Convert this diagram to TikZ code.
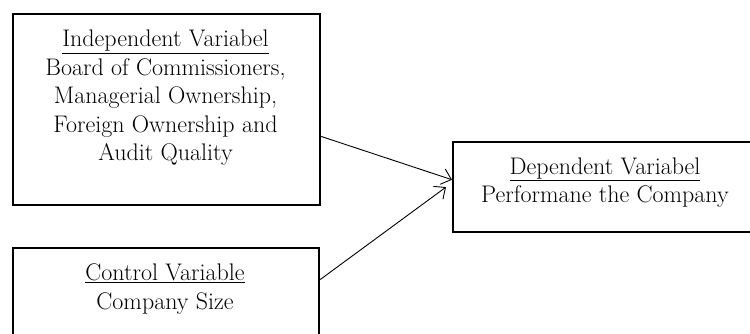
\documentclass[tikz,border=0pt]{standalone}
\usetikzlibrary{arrows.meta,calc}
\begin{document}
\begin{tikzpicture}[x=1pt,y=-1pt,
  box/.style={draw,line width=2.2pt,inner sep=0pt,anchor=north west},
  lbl/.style={align=center,inner sep=0pt,font=\fontsize{24}{28.5}\selectfont},
  conn/.style={line width=0.9pt,-{Straight Barb[length=9pt,width=16pt,line width=0.9pt]}}]
\useasboundingbox (0,0) rectangle (750,334);
\clip (0,0) rectangle (750,334);
\node[box,minimum width=307pt,minimum height=191pt] (indep) at (12,13) {};
\node[box,minimum width=306pt,minimum height=110pt] (ctrl) at (12,247) {};
\node[box,minimum width=320pt,minimum height=90pt] (dep) at (452,141) {};
\node[lbl] (indeptext) at (165.5,98) {\underline{Independent Variabel}\\Board of Commissioners,\\Managerial Ownership,\\Foreign Ownership and\\Audit Quality};
\node[lbl] (ctrltext) at (165,289) {\underline{Control Variable}\\Company Size};
\node[lbl] (deptext) at (605,182.5) {\underline{Dependent Variabel}\\Performane the Company};
\coordinate (a1s) at ($(indep.north east)!0.639!(indep.south east)$);
\coordinate (a1e) at ($(dep.north west)!0.42!(dep.south west)$);
\coordinate (a2s) at ($(ctrl.north east)!0.29!(ctrl.south east)$);
\coordinate (a2e) at ([xshift=-6pt]dep.west);
\draw[conn] (a1s) -- (a1e);
\draw[conn] (a2s) -- (a2e);
\end{tikzpicture}
\end{document}
